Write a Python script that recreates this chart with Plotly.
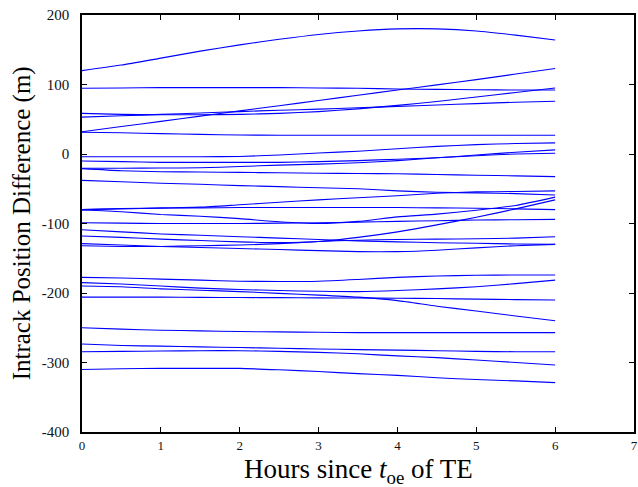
import plotly.graph_objects as go

hours = [0, 0.5, 1, 1.5, 2, 2.5, 3, 3.5, 4, 4.5, 5, 5.5, 6]

# Intrack position difference (m) of each satellite vs. hours since toe
sat_T = [120, 128, 138, 148, 157, 165, 172, 177, 180, 180, 177, 171, 164]
sat_02 = [94.5, 95, 95.5, 95.5, 95.5, 95.5, 95, 94.5, 93.5, 93, 92.5, 92, 92]
sat_03 = [32, 39.5, 47, 54.5, 62, 69.5, 77, 84.5, 92, 99.5, 107, 115, 123]
sat_04 = [58.5, 57, 56.5, 56.5, 57, 58.5, 61, 65, 70, 75.5, 82, 88.5, 95]
sat_05 = [53, 55, 57, 59, 61, 63, 64.5, 66.5, 68.5, 70.5, 72.5, 74.5, 76]
sat_06 = [31.2, 30.5, 29.3, 28.3, 27.3, 27, 27, 27, 27, 27, 27, 27, 27]
sat_07 = [-4, -4, -4, -4, -3.5, -1.5, 1.5, 4, 7.5, 11, 13.5, 15, 16]
sat_08 = [-10, -11, -12, -12, -12, -12, -11, -9.5, -7.5, -5.5, -2.5, 0, 1]
sat_09 = [-20.6, -20.5, -20.2, -19.8, -18, -16, -14.5, -12.5, -9.5, -5.5, -1.5, 2.5, 6]
sat_10 = [-21, -24, -25.5, -26, -26.5, -27, -27.8, -28, -28.5, -29.5, -30.5, -31.5, -32.5]
sat_11 = [-38, -40, -42, -43.5, -45.5, -47, -48.5, -50, -53, -55, -56, -57, -59]
sat_12 = [-80, -78.5, -77.5, -76.5, -73, -69.5, -66, -63, -60, -56.5, -54.5, -54, -53]
sat_13 = [-80, -79, -78, -77.5, -77, -77, -77, -77, -77, -77.5, -78, -79, -80]
sat_14 = [-80.5, -83, -87, -89.5, -93, -97.5, -100, -97, -90.5, -86.5, -81, -74, -62]
sat_15 = [-99, -99.5, -100, -100, -100, -99.5, -99, -98, -97, -96, -95, -94.5, -94]
sat_16 = [-109, -112, -115, -117, -119, -121, -123, -125, -126.5, -127.6, -128.5, -129.5, -130]
sat_17 = [-118, -120, -122.5, -124.5, -126.5, -127.5, -126, -120, -112, -102, -91, -79, -66]
sat_18 = [-129, -131, -133, -134.5, -136, -137.5, -139, -140.5, -140.5, -138.5, -135, -132, -130]
sat_19 = [-132, -133, -133, -132, -131, -129, -126, -124, -123, -122.5, -122, -121, -119]
sat_20 = [-177.5, -178.5, -180, -181.5, -183, -183.5, -183, -180.5, -177.5, -175.5, -174.5, -174, -174]
sat_21 = [-185, -187, -190, -193, -195, -196.5, -197.5, -198, -196.5, -194, -191, -186.5, -181.5]
sat_22 = [-190, -191, -194, -196, -198, -200.5, -203, -206, -211, -219, -226, -233, -240]
sat_23 = [-206, -206, -206, -206.3, -206.5, -206.7, -207, -207.2, -207.5, -208, -208.8, -209.5, -210]
sat_24 = [-250, -252, -253.5, -254.5, -255.5, -256, -256.5, -257, -257, -257, -257, -257, -257]
sat_25 = [-273.4, -275.5, -276.5, -277.5, -278.5, -279.5, -280.5, -281.5, -282.2, -283, -284, -284.5, -284.5]
sat_26 = [-284.5, -284, -283.5, -283, -283, -284, -285.5, -287.5, -290.5, -293, -296.5, -300, -303.5]
sat_27 = [-310, -309, -308.5, -308.5, -308.5, -310.5, -313, -316, -318.5, -322, -324.5, -326.5, -329]

series = [sat_T, sat_02, sat_03, sat_04, sat_05, sat_06, sat_07, sat_08, sat_09,
          sat_10, sat_11, sat_12, sat_13, sat_14, sat_15, sat_16, sat_17, sat_18,
          sat_19, sat_20, sat_21, sat_22, sat_23, sat_24, sat_25, sat_26, sat_27]

x_ticks = [0, 1, 2, 3, 4, 5, 6, 7]
y_ticks = [-400, -300, -200, -100, 0, 100, 200]

x_title = "Hours since <i>t</i><sub>oe</sub> of TE"
y_title = "Intrack Position Difference (m)"

fig = go.Figure()
for s in series:
    fig.add_trace(go.Scatter(x=hours, y=s, mode="lines",
                             line=dict(color="#0000ff", width=1.1, shape="spline", smoothing=0.6),
                             showlegend=False, hoverinfo="skip"))

serif = "Liberation Serif"
fig.update_layout(
    width=638, height=487,
    margin=dict(l=82, r=4, t=15, b=55, autoexpand=False),
    paper_bgcolor="white", plot_bgcolor="white",
    font=dict(family=serif, color="black"),
    xaxis=dict(range=[0, 7], tickvals=x_ticks, ticktext=[str(v) for v in x_ticks],
               showgrid=False, zeroline=False, showline=True, linecolor="black",
               linewidth=1.5, mirror="ticks", ticks="inside", ticklen=5,
               tickcolor="black", tickfont=dict(size=13, family=serif, color="#111111"),
               ticklabelstandoff=1, automargin=False),
    yaxis=dict(range=[-400, 200], tickvals=y_ticks, ticktext=[str(v) for v in y_ticks],
               showgrid=False, zeroline=False, showline=True, linecolor="black",
               linewidth=1.5, mirror="ticks", ticks="inside", ticklen=5,
               tickcolor="black", tickfont=dict(size=15, family=serif, color="#111111"),
               ticklabelstandoff=8, automargin=False),
    annotations=[
        dict(text=x_title, xref="paper", yref="paper", x=0.5, y=-0.094,
             xanchor="center", yanchor="middle", showarrow=False,
             font=dict(size=27, family=serif, color="black")),
        dict(text=y_title, xref="paper", yref="paper", x=-0.109, y=0.5,
             xanchor="center", yanchor="middle", textangle=-90, showarrow=False,
             font=dict(size=25, family=serif, color="black")),
    ],
)

fig.write_html("out.html", config={"displayModeBar": False},
               post_script="document.body.style.margin='0';")
